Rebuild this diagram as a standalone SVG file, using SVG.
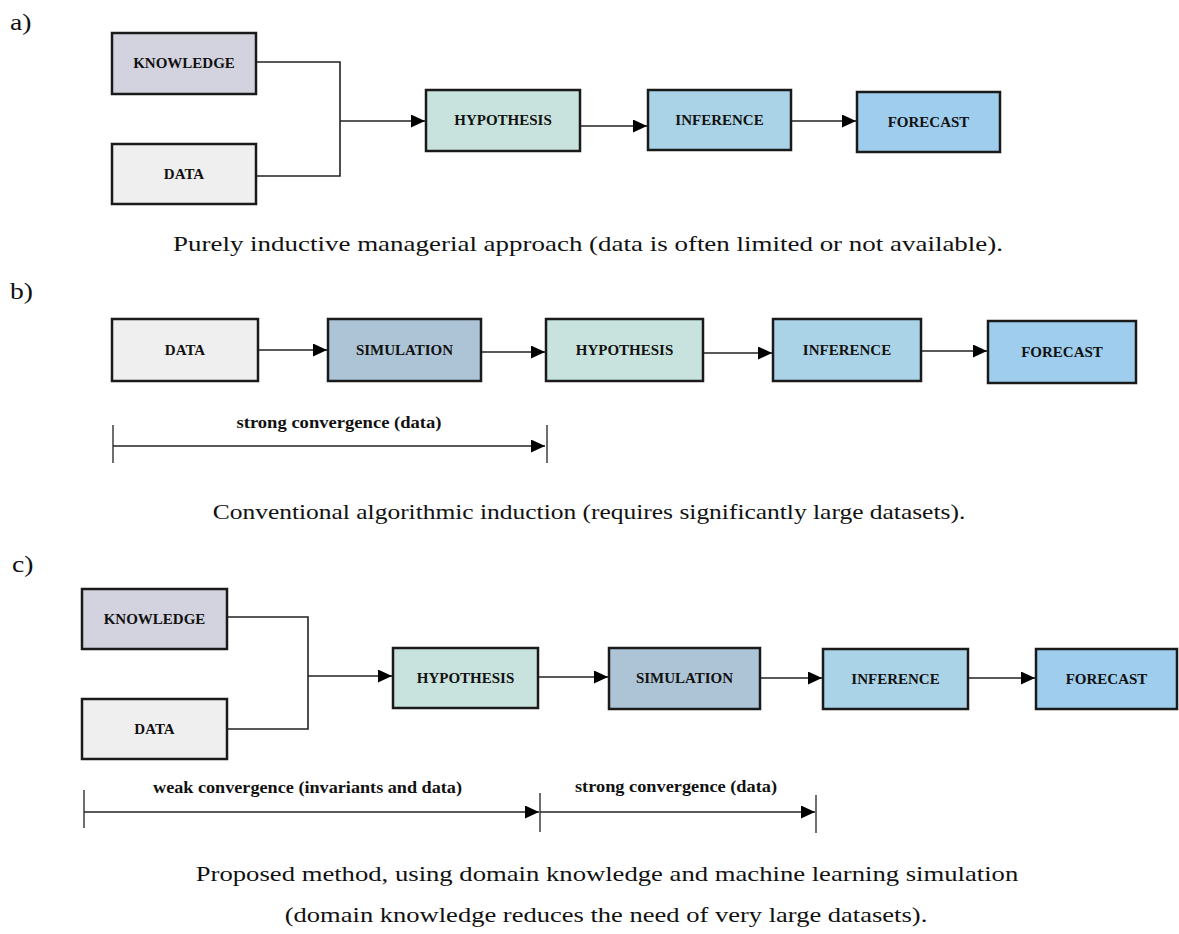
<svg xmlns="http://www.w3.org/2000/svg" width="1179" height="934" viewBox="0 0 1179 934">
<style>
.box{stroke:#1a1a1a;stroke-width:2.5}
.k{fill:#d3d3df}.d{fill:#efefef}.h{fill:#c8e3dd}.s{fill:#adc4d6}.i{fill:#aad3e7}.f{fill:#9fcdee}
.lbl{font-family:"Liberation Serif","Times New Roman",serif;font-weight:bold;font-size:15px;fill:#111;text-anchor:middle}
.ml{font-family:"Liberation Serif","Times New Roman",serif;font-weight:bold;font-size:17px;fill:#111;text-anchor:middle}
.cap{font-family:"Liberation Serif","Times New Roman",serif;font-size:21.5px;fill:#111;text-anchor:middle}
.pl{font-family:"Liberation Serif","Times New Roman",serif;font-size:23px;fill:#111}
.ln{fill:none;stroke:#222;stroke-width:1.6}
.tick{fill:none;stroke:#222;stroke-width:1.3}
</style>
<defs>
<marker id="ah" markerUnits="userSpaceOnUse" markerWidth="14" markerHeight="14" refX="14" refY="6.5" orient="auto">
<path d="M0,0 L14,6.5 L0,13 z" fill="#000"/>
</marker>
</defs>

<text class="pl" transform="translate(10,30) scale(1.2,1)">a)</text>
<text class="pl" transform="translate(10,299) scale(1.2,1)">b)</text>
<text class="pl" transform="translate(12,572) scale(1.2,1)">c)</text>

<g id="connectors">
<!-- a -->
<path class="ln" d="M256,62 H340 V176 H256"/>
<path class="ln" d="M340,121 H425" marker-end="url(#ah)" stroke-width="2"/>
<path class="ln" d="M580,126 H647" marker-end="url(#ah)"/>
<path class="ln" d="M791,121 H856" marker-end="url(#ah)"/>
<!-- b -->
<path class="ln" d="M258,350 H327" marker-end="url(#ah)"/>
<path class="ln" d="M481,352 H545" marker-end="url(#ah)"/>
<path class="ln" d="M703,353 H772" marker-end="url(#ah)"/>
<path class="ln" d="M921,351 H987" marker-end="url(#ah)"/>
<path class="tick" d="M113,425 V463 M547,425 V463"/>
<path class="ln" d="M113,446 H545" marker-end="url(#ah)"/>
<!-- c -->
<path class="ln" d="M227,617 H308 V729 H227"/>
<path class="ln" d="M308,676 H392" marker-end="url(#ah)" stroke-width="2"/>
<path class="ln" d="M538,677 H608" marker-end="url(#ah)"/>
<path class="ln" d="M760,678 H822" marker-end="url(#ah)"/>
<path class="ln" d="M968,678 H1035" marker-end="url(#ah)"/>
<path class="tick" d="M84,790 V828 M540,793 V832 M816,795 V833"/>
<path class="ln" d="M84,812 H539" marker-end="url(#ah)"/>
<path class="ln" d="M540,812 H815" marker-end="url(#ah)"/>
</g>

<!-- panel a -->
<g id="a-knowledge"><rect class="box k" x="112" y="33" width="144" height="61"/><text class="lbl" x="184" y="68">KNOWLEDGE</text></g>
<g id="a-data"><rect class="box d" x="112" y="144" width="144" height="60"/><text class="lbl" x="184" y="179">DATA</text></g>
<g id="a-hypothesis"><rect class="box h" x="426" y="90" width="154" height="61"/><text class="lbl" x="503" y="125">HYPOTHESIS</text></g>
<g id="a-inference"><rect class="box i" x="648" y="90" width="143" height="60"/><text class="lbl" x="719.5" y="125">INFERENCE</text></g>
<g id="a-forecast"><rect class="box f" x="857" y="92" width="143" height="60"/><text class="lbl" x="928.5" y="127">FORECAST</text></g>
<text class="cap" transform="translate(588,251) scale(1.25,1)" textLength="664" lengthAdjust="spacingAndGlyphs">Purely inductive managerial approach (data is often limited or not available).</text>

<!-- panel b -->
<g id="b-data"><rect class="box d" x="112" y="319" width="146" height="62"/><text class="lbl" x="185" y="355">DATA</text></g>
<g id="b-simulation"><rect class="box s" x="328" y="319" width="153" height="62"/><text class="lbl" x="404.5" y="355">SIMULATION</text></g>
<g id="b-hypothesis"><rect class="box h" x="546" y="319" width="157" height="62"/><text class="lbl" x="624.5" y="355">HYPOTHESIS</text></g>
<g id="b-inference"><rect class="box i" x="773" y="319" width="148" height="62"/><text class="lbl" x="847" y="355">INFERENCE</text></g>
<g id="b-forecast"><rect class="box f" x="988" y="321" width="148" height="62"/><text class="lbl" x="1062" y="357">FORECAST</text></g>
<text class="ml" x="339" y="428" textLength="205" lengthAdjust="spacingAndGlyphs">strong convergence (data)</text>
<text class="cap" transform="translate(589,519) scale(1.25,1)" textLength="602" lengthAdjust="spacingAndGlyphs">Conventional algorithmic induction (requires significantly large datasets).</text>

<!-- panel c -->
<g id="c-knowledge"><rect class="box k" x="82" y="589" width="145" height="60"/><text class="lbl" x="154.5" y="624">KNOWLEDGE</text></g>
<g id="c-data"><rect class="box d" x="82" y="699" width="145" height="60"/><text class="lbl" x="154.5" y="734">DATA</text></g>
<g id="c-hypothesis"><rect class="box h" x="393" y="648" width="145" height="60"/><text class="lbl" x="465.5" y="683">HYPOTHESIS</text></g>
<g id="c-simulation"><rect class="box s" x="609" y="648" width="151" height="61"/><text class="lbl" x="684.5" y="683">SIMULATION</text></g>
<g id="c-inference"><rect class="box i" x="823" y="649" width="145" height="60"/><text class="lbl" x="895.5" y="684">INFERENCE</text></g>
<g id="c-forecast"><rect class="box f" x="1036" y="649" width="141" height="60"/><text class="lbl" x="1106.5" y="684">FORECAST</text></g>
<text class="ml" x="307.5" y="793" textLength="309" lengthAdjust="spacingAndGlyphs">weak convergence (invariants and data)</text>
<text class="ml" x="676" y="792" textLength="202" lengthAdjust="spacingAndGlyphs">strong convergence (data)</text>
<text class="cap" transform="translate(607,881) scale(1.25,1)" textLength="658" lengthAdjust="spacingAndGlyphs">Proposed method, using domain knowledge and machine learning simulation</text>
<text class="cap" transform="translate(606,922) scale(1.25,1)" textLength="514" lengthAdjust="spacingAndGlyphs">(domain knowledge reduces the need of very large datasets).</text>
</svg>
